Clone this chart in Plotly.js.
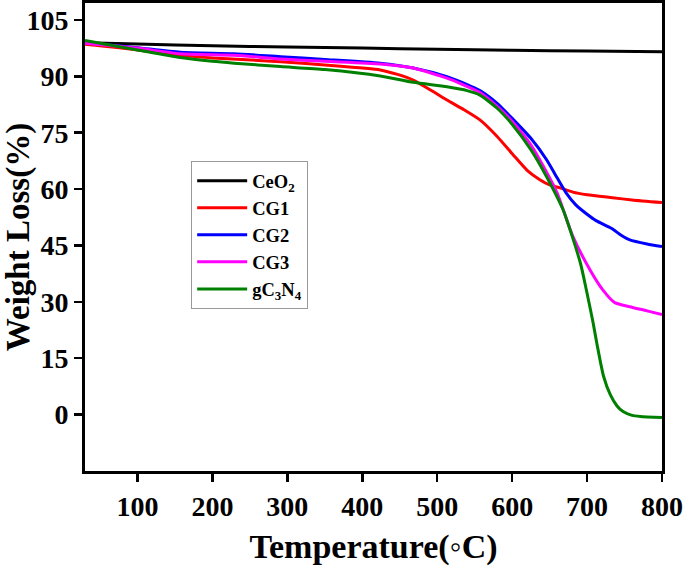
<!DOCTYPE html>
<html>
<head>
<meta charset="utf-8">
<script src="https://cdn.plot.ly/plotly-3.0.1.min.js"></script>
<style>body{margin:0;padding:0;background:#fff}#chart{width:685px;height:570px}</style>
</head>
<body>
<div id="chart"></div>
<script>
// Data
const ceo2T = [30, 100, 200, 300, 400, 500, 600, 700, 800];
const ceo2W = [98.9, 98.6, 98.1, 97.8, 97.5, 97.2, 96.9, 96.7, 96.5];

const cg1T = [30, 100, 157, 200, 291, 350, 424, 447, 468, 490, 513, 535, 557, 580, 601, 620, 637, 650, 664, 681, 700, 734, 760, 800];
const cg1W = [98.5, 97.0, 95.5, 94.9, 93.9, 93.0, 91.7, 90.5, 89.0, 86.5, 83.7, 81.2, 78.4, 74.0, 69.2, 65.0, 62.5, 61.1, 60.3, 59.2, 58.5, 57.7, 57.1, 56.4];

const cg2T = [30, 100, 157, 229, 291, 350, 424, 468, 513, 540, 557, 580, 601, 625, 646, 660, 672, 685, 700, 712, 733, 745, 757, 780, 800];
const cg2W = [99.0, 97.6, 96.4, 96.0, 95.2, 94.5, 93.5, 92.2, 89.9, 87.8, 86.2, 82.8, 78.6, 73.5, 67.8, 63.0, 59.0, 55.8, 53.3, 51.6, 49.5, 47.8, 46.5, 45.4, 44.7];

const cg3T = [30, 100, 157, 229, 291, 350, 424, 468, 513, 557, 580, 601, 625, 646, 660, 681, 704, 721, 737, 757, 780, 800];
const cg3W = [98.8, 97.5, 96.0, 95.6, 94.6, 94.0, 93.3, 92.2, 89.5, 85.7, 82.0, 77.8, 71.8, 64.5, 59.0, 47.4, 38.5, 33.2, 29.8, 28.7, 27.6, 26.6];

const gcnT = [30, 100, 157, 200, 229, 291, 350, 424, 468, 513, 540, 557, 580, 601, 625, 646, 668, 691, 699, 708, 713, 722, 731, 740, 748, 760, 771, 800];
const gcnW = [99.5, 97.0, 95.0, 94.0, 93.5, 92.6, 91.8, 90.1, 88.4, 87.2, 86.2, 85.0, 81.5, 77.0, 70.5, 63.3, 54.5, 40.4, 33.2, 24.5, 19.0, 10.2, 5.3, 2.3, 0.8, -0.2, -0.5, -0.8];

const xTicks = [100, 200, 300, 400, 500, 600, 700, 800];
const yTicks = [0, 15, 30, 45, 60, 75, 90, 105];

const names = ['CeO<sub>2</sub>', 'CG1', 'CG2', 'CG3', 'gC<sub>3</sub>N<sub>4</sub>'];
const colors = ['#000000', '#ff0000', '#0000ff', '#ff00ff', '#008000'];
const xs = [ceo2T, cg1T, cg2T, cg3T, gcnT];
const ys = [ceo2W, cg1W, cg2W, cg3W, gcnW];

const traces = names.map((n, i) => ({
  x: xs[i], y: ys[i], name: n, type: 'scatter', mode: 'lines',
  line: {color: colors[i], width: 3, shape: 'spline', smoothing: 0.6}
}));

const serif = 'Liberation Serif, Times New Roman, serif';
const axisCommon = {
  showline: true, linecolor: '#000', linewidth: 3, mirror: true,
  ticks: 'outside', ticklen: 8, tickwidth: 2.5, tickcolor: '#000',
  showgrid: false, zeroline: false,
  tickfont: {family: serif, size: 28, color: '#000', weight: 'bold'}
};

const layout = {
  width: 685, height: 570,
  margin: {l: 85, r: 23, t: 3, b: 99},
  paper_bgcolor: '#fff', plot_bgcolor: '#fff',
  font: {family: serif, color: '#000'},
  xaxis: Object.assign({}, axisCommon, {
    range: [30, 800], tickvals: xTicks, ticktext: xTicks.map(String),
    title: {text: '<b>Temperature(◦C)</b>', font: {family: serif, size: 34, color: '#000'}, standoff: 14}
  }),
  yaxis: Object.assign({}, axisCommon, {
    range: [-15, 109.5], tickvals: yTicks, ticktext: yTicks.map(String),
    title: {text: '<b>Weight Loss(%)</b>', font: {family: serif, size: 33, color: '#000'}, standoff: 6}
  }),
  showlegend: true,
  legend: {
    x: 0.184, y: 0.662, xanchor: 'left', yanchor: 'top',
    bgcolor: '#fff', bordercolor: '#999', borderwidth: 1,
    font: {family: serif, size: 18.5, color: '#000', weight: 'bold'},
    itemwidth: 50, tracegroupgap: 0
  }
};

Plotly.newPlot('chart', traces, layout, {displayModeBar: false, staticPlot: true});
</script>
</body>
</html>
